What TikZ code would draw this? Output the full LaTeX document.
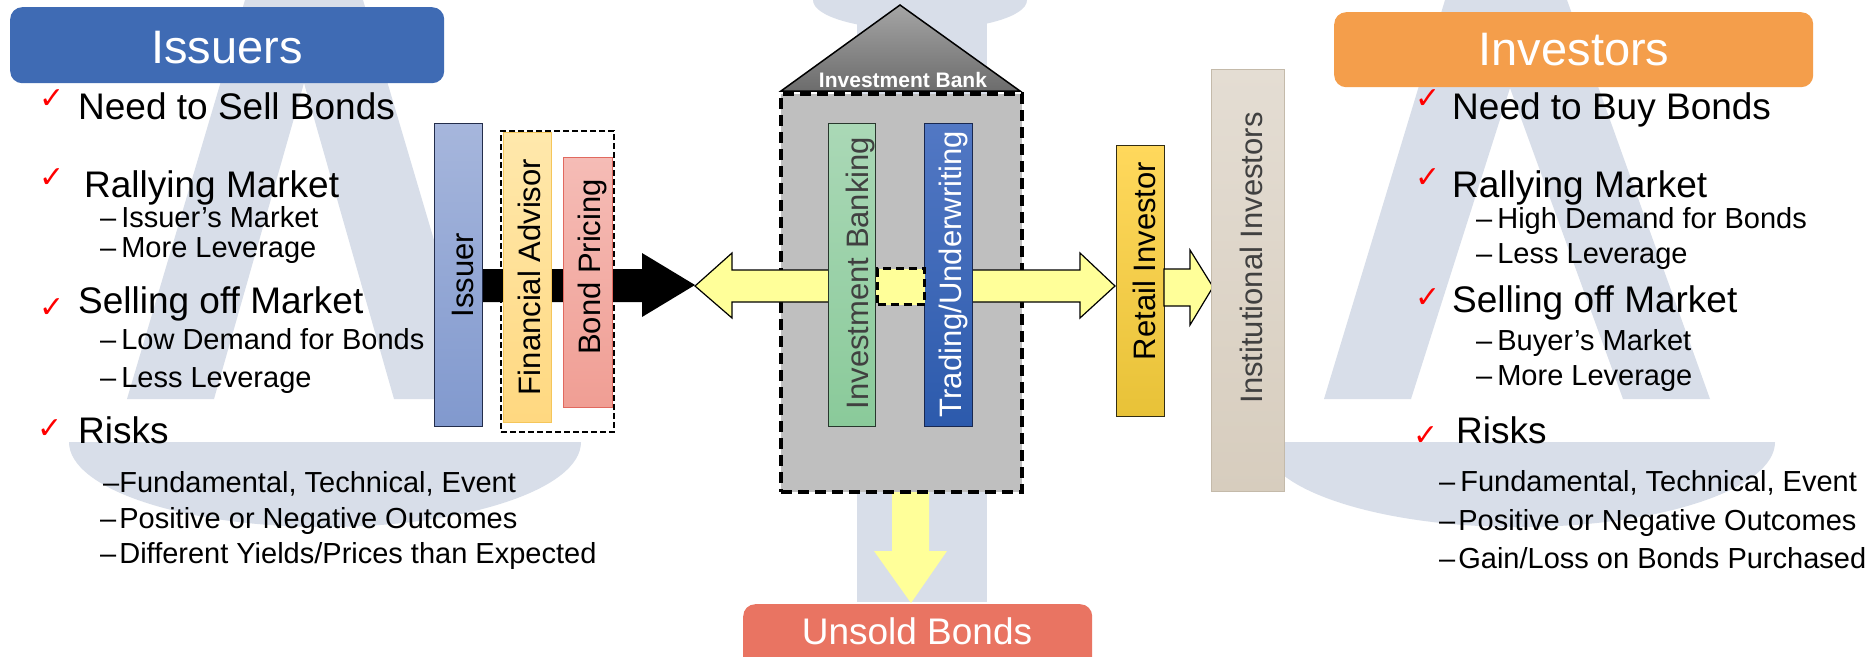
\documentclass[tikz,border=0pt]{standalone}
\usepackage{fontspec}
\setmainfont{Liberation Sans}
\newfontfamily\symfont{DejaVu Sans}
\usetikzlibrary{calc}
\newcommand\myfs[1]{\fontsize{#1}{#1}\selectfont}
\definecolor{wm}{RGB}{216,222,233}
\definecolor{issblue}{RGB}{63,107,180}
\definecolor{invorange}{RGB}{244,158,75}
\definecolor{unsoldred}{RGB}{233,116,98}
\definecolor{checkred}{RGB}{255,0,0}
\definecolor{arrowyellow}{RGB}{255,255,153}
\definecolor{bankgrey}{RGB}{191,191,191}
\definecolor{darktext}{RGB}{64,64,64}
\begin{document}
\begin{tikzpicture}[x=1pt,y=-1pt,
  wmark/.style={fill=wm, draw=none},
  bar/.style={anchor=north west, inner sep=0pt, line width=1.2pt, rectangle},
  vtext/.style={rotate=90, anchor=base, inner sep=0pt, font={\myfs{31}}},
  head/.style={rounded corners=12pt, inner sep=0pt, anchor=north west, rectangle},
  headtext/.style={anchor=base, inner sep=0pt, text=white},
  big/.style={anchor=base west, inner sep=0pt, font={\myfs{37}}},
  sub/.style={anchor=base west, inner sep=0pt, font={\myfs{29}}},
  tick/.style={text=checkred, font={\symfont\myfs{30}}, inner sep=0pt},
  yarrow/.style={fill=arrowyellow, draw=black, line width=1.2pt, line join=miter},
]
\useasboundingbox (0,0) rectangle (1874,656);
\clip (0,0) rectangle (1874,656);
\fill[white] (0,0) rectangle (1874,656);

% ---------- watermark ----------
\fill[wmark] (245,0) -- (363,0) -- (481,399) -- (394,399) -- (304,83) -- (214,399) -- (127,399) -- cycle;
\fill[wmark] (69,442) .. controls (69,489) and (184,527) .. (325,527) .. controls (466,527) and (581,489) .. (581,442) -- cycle;
\fill[wmark] (1445,0) -- (1567,0) -- (1710,399) -- (1623,399) -- (1510,88) -- (1411,399) -- (1324,399) -- cycle;
\fill[wmark] (1263,442) .. controls (1263,489) and (1378,527) .. (1519,527) .. controls (1660,527) and (1775,489) .. (1775,442) -- cycle;
\fill[wmark] (813,0) .. controls (813,17) and (861,30) .. (920,30) .. controls (979,30) and (1027,17) .. (1027,0) -- cycle;
\fill[wmark] (857,0) rectangle (987,602);

% ---------- issuer side ----------
\fill[black] (482,269) -- (642,269) -- (642,253) -- (695,285) -- (642,317) -- (642,302) -- (482,302) -- cycle;
\node[bar, draw={rgb,255:red,35;green,45;blue,75}, top color={rgb,255:red,166;green,182;blue,220}, bottom color={rgb,255:red,129;green,153;blue,206}, minimum width=48, minimum height=303] (issuer) at (434,123) {};
\node[vtext] (issuertxt) at (473,275) {Issuer};
\node[bar, draw=black, dashed, dash pattern=on 6pt off 3pt, line width=2pt, minimum width=113, minimum height=301] (group) at (500,130) {};
\node[bar, draw={rgb,255:red,245;green,198;blue,90}, top color={rgb,255:red,255;green,232;blue,172}, bottom color={rgb,255:red,255;green,216;blue,128}, minimum width=48, minimum height=290] (fa) at (503,132) {};
\node[vtext] (fatxt) at (540,277) {Financial Advisor};
\node[bar, draw={rgb,255:red,225;green,105;blue,95}, top color={rgb,255:red,245;green,188;blue,182}, bottom color={rgb,255:red,240;green,158;blue,148}, minimum width=49, minimum height=250] (bp) at (563,157) {};
\node[vtext] (bptxt) at (600,267) {Bond Pricing};

% ---------- bank ----------
\fill[arrowyellow] (892,488) -- (929,488) -- (929,551) -- (947,551) -- (911,603) -- (874,551) -- (892,551) -- cycle;
\node[bar, fill=bankgrey, draw=black, line width=3.5pt, dash pattern=on 11pt off 6pt, minimum width=241, minimum height=398] (bank) at (779,92) {};
\draw[line width=1.5pt, line join=miter, top color={rgb,255:red,165;green,165;blue,165}, bottom color={rgb,255:red,108;green,108;blue,108}] (781,91) -- (900,5) -- (1020,91) -- cycle;
\node[headtext, font={\bfseries\myfs{21}}] (banktxt) at (903,87) {Investment Bank};

\draw[yarrow] (695,286) -- (732,253) -- (732,270) -- (1080,270) -- (1080,253) -- (1115,286) -- (1080,318) -- (1080,302) -- (732,302) -- (732,318) -- cycle;

\node[bar, draw={rgb,255:red,40;green,55;blue,45}, top color={rgb,255:red,170;green,216;blue,182}, bottom color={rgb,255:red,138;green,202;blue,154}, minimum width=47, minimum height=303] (ib) at (828,123) {};
\node[vtext, text=darktext] (ibtxt) at (868,273) {Investment Banking};
\node[bar, draw={rgb,255:red,25;green,40;blue,80}, top color={rgb,255:red,82;green,120;blue,196}, bottom color={rgb,255:red,44;green,90;blue,172}, minimum width=48, minimum height=303] (tu) at (924,123) {};
\node[vtext, text=white] (tutxt) at (961,274) {Trading/Underwriting};
\node[bar, fill=arrowyellow, draw=black, line width=3pt, dash pattern=on 8pt off 5pt, minimum width=47, minimum height=36] (mid) at (876,267) {};

% ---------- investor side ----------
\node[bar, draw={rgb,255:red,50;green,45;blue,20}, top color={rgb,255:red,255;green,216;blue,92}, bottom color={rgb,255:red,232;green,194;blue,56}, minimum width=48, minimum height=271] (ri) at (1116,145) {};
\node[vtext] (ritxt) at (1155,261) {Retail Investor};
\draw[yarrow] (1164,269) -- (1190,269) -- (1190,250) -- (1213,287) -- (1190,325) -- (1190,306) -- (1164,306) -- cycle;
\node[bar, draw={rgb,255:red,196;green,186;blue,170}, top color={rgb,255:red,228;green,221;blue,211}, bottom color={rgb,255:red,215;green,205;blue,190}, minimum width=73, minimum height=422] (ii) at (1211,69) {};
\node[vtext, text=darktext] (iitxt) at (1262,258) {Institutional Investors};

% ---------- headers ----------
\node[head, fill=issblue, minimum width=434, minimum height=76] (issuers) at (10,7) {};
\node[headtext, font={\myfs{47}}] (issuerstxt) at (227,63) {Issuers};
\node[head, fill=invorange, minimum width=479, minimum height=75] (investors) at (1334,12) {};
\node[headtext, font={\myfs{47}}] (investorstxt) at (1574,65) {Investors};
\node[head, fill=unsoldred, minimum width=349, minimum height=80] (unsold) at (743,604) {};
\node[headtext, font={\myfs{37}}] (unsoldtxt) at (917,644) {Unsold Bonds};

% ---------- left bullets ----------
\node[tick] (lc1) at (52,99) {✓};
\node[tick] (lc2) at (52,178) {✓};
\node[tick] (lc3) at (52,308) {✓};
\node[tick] (lc4) at (50,429) {✓};
\node[big] (l1) at (78,119) {Need to Sell Bonds};
\node[big] (l2) at (84,197) {Rallying Market};
\node[sub] (l2a) at (100,227) {–\hspace{5pt}Issuer’s Market};
\node[sub] (l2b) at (100,257) {–\hspace{5pt}More Leverage};
\node[big] (l3) at (78,313) {Selling off Market};
\node[sub] (l3a) at (100,349) {–\hspace{5pt}Low Demand for Bonds};
\node[sub] (l3b) at (100,387) {–\hspace{5pt}Less Leverage};
\node[big] (l4) at (78,443) {Risks};
\node[sub] (l4a) at (103,492) {–Fundamental, Technical, Event};
\node[sub] (l4b) at (100,528) {–\hspace{3pt}Positive or Negative Outcomes};
\node[sub] (l4c) at (100,563) {–\hspace{3pt}Different Yields/Prices than Expected};

% ---------- right bullets ----------
\node[tick] (rc1) at (1428,99) {✓};
\node[tick] (rc2) at (1428,178) {✓};
\node[tick] (rc3) at (1428,298) {✓};
\node[tick] (rc4) at (1426,436) {✓};
\node[big] (r1) at (1452,119) {Need to Buy Bonds};
\node[big] (r2) at (1452,197) {Rallying Market};
\node[sub] (r2a) at (1476,228) {–\hspace{5pt}High Demand for Bonds};
\node[sub] (r2b) at (1476,263) {–\hspace{5pt}Less Leverage};
\node[big] (r3) at (1452,312) {Selling off Market};
\node[sub] (r3a) at (1476,350) {–\hspace{5pt}Buyer’s Market};
\node[sub] (r3b) at (1476,385) {–\hspace{5pt}More Leverage};
\node[big] (r4) at (1456,443) {Risks};
\node[sub] (r4a) at (1439,491) {–\hspace{5pt}Fundamental, Technical, Event};
\node[sub] (r4b) at (1439,530) {–\hspace{3pt}Positive or Negative Outcomes};
\node[sub] (r4c) at (1439,568) {–\hspace{3pt}Gain/Loss on Bonds Purchased};
\end{tikzpicture}
\end{document}
